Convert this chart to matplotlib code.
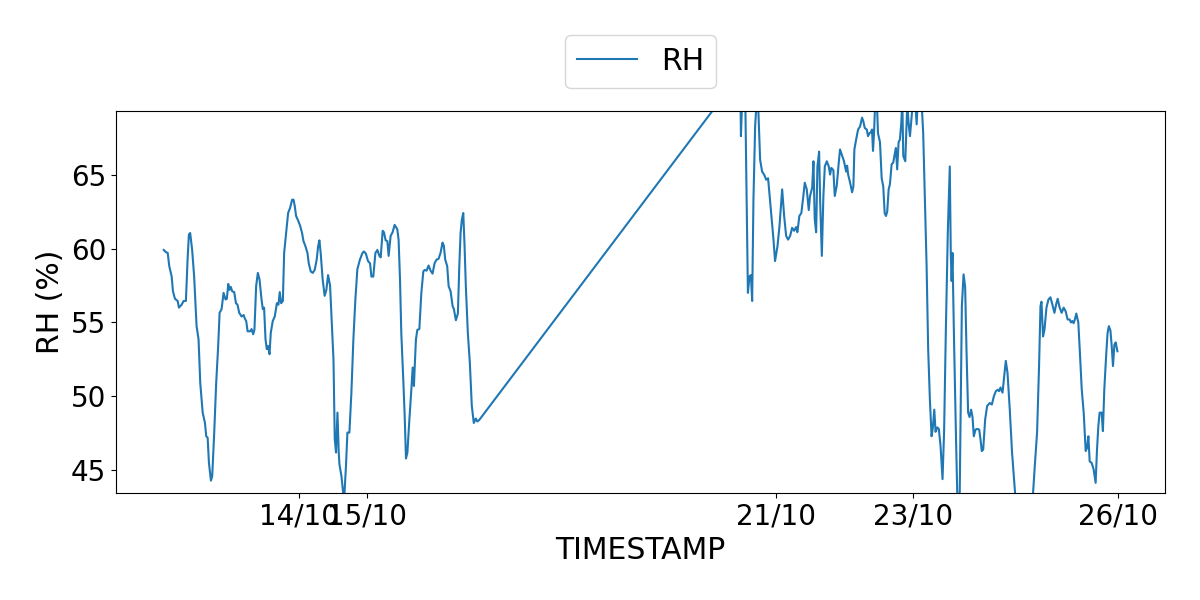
import matplotlib
matplotlib.use("Agg")
import matplotlib.pyplot as plt
import matplotlib.dates as mdates
import pandas as pd
import numpy as np

# hours since 2023-10-12 00:00
hours = [0.5, 1.3, 1.9, 2.45, 3.3, 3.75, 4.45, 5.4, 5.85, 6.8, 7.5, 8.3, 8.9, 9.35, 9.8, 10.5, 11.2,
         12.05, 12.75, 13.35, 14.2, 15.0, 15.45, 15.95, 16.4, 17.1, 17.55, 18.25, 18.95, 19.65, 20.15,
         20.85, 21.55, 22.25, 22.7, 23.2, 23.65, 24.1, 24.6, 25.3, 25.9, 26.45, 27.05, 27.9, 28.6,
         29.05, 29.5, 30.0, 30.9, 31.4, 31.95, 32.4, 33.0, 33.6, 34.2, 34.9, 35.35, 35.8, 36.3, 36.75,
         37.2, 37.7, 38.15, 38.85, 39.55, 40.3, 40.85, 41.3, 41.8, 42.4, 42.85, 43.55, 44.25, 44.95,
         45.65, 46.15, 46.6, 47.05, 47.75, 48.45, 49.15, 49.65, 50.35, 51.05, 51.5, 52.2, 52.9, 53.6,
         54.3, 54.8, 55.25, 55.7, 56.4, 57.1, 57.7, 58.3, 59.0, 59.7, 60.2, 60.65, 61.1, 61.6, 62.05,
         62.3, 63.0, 63.7, 64.0, 64.6, 65.1, 65.8, 66.5, 67.2, 67.9, 68.6, 69.5, 70.4, 70.9, 71.6,
         72.35, 73.05, 73.55, 74.2, 74.95, 75.65, 76.35, 76.8, 77.5, 77.95, 78.55, 79.15, 79.6, 80.3,
         81.0, 81.7, 82.65, 83.1, 83.6, 84.05, 84.8, 85.25, 85.7, 86.2, 86.9, 87.6, 88.05, 88.5, 88.75,
         89.2, 89.7, 90.4, 91.1, 91.8, 92.25, 92.95, 93.65, 94.35, 95.05, 95.75, 96.45, 97.15, 97.85,
         98.55, 99.0, 99.5, 100.2, 100.7, 101.4, 102.1, 102.55, 103.25, 103.95, 104.45, 104.9, 105.35,
         105.85, 106.3, 106.75, 107.45, 108.15, 108.85, 109.55, 110.25, 110.75, 111.45,
         203.25, 203.5, 203.95, 205.0, 205.95, 206.5, 207.0, 207.45, 207.9, 208.5, 209.1, 209.65,
         210.25, 210.95, 211.65, 212.4, 213.05, 213.5, 214.2, 214.95, 215.5, 216.35, 217.05, 218.0,
         218.7, 219.4, 220.1, 220.8, 221.5, 222.2, 222.9, 223.35, 224.05, 224.75, 225.45, 225.95,
         226.65, 227.35, 227.8, 228.55, 229.0, 229.45, 229.95, 230.4, 231.0, 231.35, 231.95, 232.5,
         233.0, 233.7, 234.4, 234.85, 235.3, 236.0, 236.5, 237.2, 237.9, 238.35, 239.05, 239.75,
         240.5, 240.85, 241.2, 241.9, 242.6, 243.05, 243.4, 244.0, 244.7, 245.4, 246.1, 246.55,
         247.05, 247.75, 248.2, 248.7, 249.15, 249.6, 249.95, 250.3, 250.75, 251.25, 251.7, 252.4,
         253.0, 253.55, 254.05, 254.5, 254.95, 255.45, 255.9, 256.5, 257.05, 257.55, 258.0, 258.45,
         258.95, 259.4, 259.9, 260.25, 260.6, 261.3, 262.0, 262.5, 262.95, 263.4, 264.1, 264.8,
         265.3, 265.75, 266.7, 267.15, 267.6, 268.2, 268.8, 269.35, 269.95, 270.55, 271.0, 271.5,
         271.95, 272.55, 273.1, 273.7, 274.4, 274.95, 275.55, 276.25, 276.95, 277.3, 277.6, 277.9,
         278.4, 279.1, 280.15, 281.2, 281.8, 282.35, 282.85, 283.4, 283.9, 284.45, 284.95, 285.4,
         286.0, 286.6, 287.3, 287.75, 288.2, 288.7, 289.4, 290.1, 291.0, 291.75, 292.45, 293.15,
         293.85, 294.3, 294.8, 295.5, 296.05, 296.65, 297.25, 298.05, 298.85, 299.45, 299.9, 301.58,
         303.33, 305.09, 306.25, 306.85, 307.65, 308.35, 308.85, 309.2, 309.75, 310.25, 310.95,
         311.65, 312.35, 313.05, 313.75, 314.45, 314.9, 315.6, 316.3, 317.0, 317.7, 318.4, 319.1,
         319.55, 320.05, 320.5, 320.95, 321.45, 322.15, 322.65, 323.35, 324.05, 324.75, 325.2, 325.7,
         326.15, 326.85, 327.55, 328.25, 328.7, 329.2, 329.65, 330.35, 330.8, 331.3, 332.0, 332.45,
         332.9, 333.45, 333.9, 334.35, 334.85, 335.3, 335.9]

rh = [59.9, 59.75, 59.7, 58.8, 58.1, 57.1, 56.6, 56.45, 56.0, 56.2, 56.45, 56.45, 59.3, 60.95, 61.05, 59.9, 58.1,
      54.75, 53.85, 50.9, 48.9, 48.2, 47.3, 47.2, 45.5, 44.3, 44.6, 47.5, 50.9, 53.4, 55.65,
      55.9, 57.0, 56.55, 56.6, 57.6, 57.2, 57.4, 57.1, 57.05, 56.3, 56.2, 55.65, 55.4, 55.5,
      55.25, 55.1, 54.4, 54.4, 54.55, 54.2, 54.5, 57.45, 58.35, 57.9, 56.55, 55.9, 56.0, 53.85, 53.2,
      53.4, 52.85, 54.3, 55.1, 55.4, 56.3, 56.2, 57.05, 56.3, 56.45, 59.7, 61.05, 62.4, 62.75,
      63.3, 63.3, 62.85, 62.2, 61.9, 61.55, 61.05, 60.5, 60.15, 59.7, 59.0, 58.45, 58.35, 58.55,
      59.25, 60.15, 60.55, 59.7, 57.9, 56.8, 57.2, 58.2, 57.5, 54.5, 52.5, 47.1, 46.2, 48.9, 46.2,
      45.4, 44.6, 43.3, 43.2, 45.3, 47.55, 47.55, 50.25, 53.85, 56.55, 58.6, 59.25, 59.7, 59.8, 59.65,
      59.15, 59.0, 58.1, 58.1, 59.7, 59.9, 59.5, 59.4, 61.2, 61.1, 60.55, 60.5, 59.5, 60.85,
      61.1, 61.6, 61.3, 60.6, 57.9, 54.3, 50.9, 48.65, 45.8, 46.2, 48.45, 50.5, 51.95, 50.7, 51.9,
      53.85, 54.5, 54.55, 57.0, 58.45, 58.55, 58.5, 58.85, 58.5, 58.3, 59.0, 59.25, 59.3, 59.7,
      60.4, 60.2, 59.25, 58.8, 57.45, 57.1, 56.1, 55.9, 55.15, 55.6, 58.8, 61.05, 61.95,
      62.4, 60.2, 57.45, 54.3, 52.3, 49.35, 48.2, 48.5, 48.3, 48.4,
      71.8, 67.6, 70.2, 70.5, 57.0, 58.1, 58.2, 56.45, 63.3, 68.3, 70.2, 69.2,
      66.0, 65.2, 65.0, 64.65, 64.75, 63.75, 62.2, 60.6, 59.15, 60.15, 61.5, 64.0,
      62.2, 60.85, 60.6, 60.85, 61.4, 61.2, 61.45, 61.1, 62.2, 62.4, 63.55, 64.45,
      64.0, 62.6, 63.55, 64.1, 65.9, 62.0, 61.1, 65.55, 66.55, 63.3, 59.5, 63.55,
      65.55, 65.9, 65.55, 65.0, 65.45, 65.3, 63.55, 64.25, 65.8, 66.7, 66.3, 65.9,
      65.2, 65.6, 65.0, 64.45, 63.8, 64.2, 66.7, 67.35, 68.05, 68.25, 68.85, 68.6,
      68.15, 68.05, 67.6, 67.8, 67.85, 68.05, 66.6, 67.8, 70.0, 70.3, 67.8, 67.2,
      64.75, 64.2, 62.4, 62.2, 62.5, 64.0, 64.35, 65.7, 65.8, 66.35, 66.8, 65.35,
      67.2, 67.35, 68.5, 70.0, 66.25, 65.9, 69.8, 68.4, 67.6, 68.6, 70.2, 70.0,
      68.4, 70.3, 70.5, 69.5, 67.8, 63.3, 58.8, 53.2, 49.8, 47.3, 47.9, 49.1,
      47.6, 47.9, 47.8, 46.65, 44.4, 47.6, 54.3, 61.05, 65.55, 59.7, 57.8, 59.7,
      54.3, 47.55, 38.5, 56.1, 58.25, 57.4, 52.95, 48.9, 48.6, 49.1, 48.6, 47.3,
      47.75, 47.8, 47.75, 47.1, 46.3, 46.4, 48.45, 49.35, 49.55, 49.45, 50.0, 50.35,
      50.45, 50.35, 50.6, 50.25, 51.25, 52.4, 51.6, 49.1, 46.2, 44.6, 43.5, 40.0,
      38.5, 40.5, 43.5, 45.3, 47.55, 52.05, 56.1, 56.4, 54.05, 54.5, 56.0,
      56.55, 56.7, 56.2, 55.65, 56.3, 56.6, 56.0, 55.65, 56.0, 55.75, 55.2, 55.2,
      55.0, 55.1, 54.95, 55.2, 55.6, 55.0, 53.2, 50.5, 48.9, 46.3, 46.5, 47.3,
      45.6, 45.5, 45.05, 44.15, 46.3, 48.0, 48.9, 48.9, 47.65, 50.5, 52.95, 54.3,
      54.75, 54.45, 53.4, 52.05, 53.5, 53.65, 53.05]

tick_dates = ["2023-10-14", "2023-10-15", "2023-10-21", "2023-10-23", "2023-10-26"]
y_limits = (43.45, 69.3)

base = pd.Timestamp("2023-10-12 00:00")
times = base + pd.to_timedelta(hours, unit="h")

fig = plt.figure(figsize=(12, 6), dpi=100)
ax = fig.add_axes([0.0967, 0.178, 0.8742, 0.637])
ax.plot(times, rh, color="#1f77b4", linewidth=1.5, label="RH")
ax.set_ylim(*y_limits)
ax.set_xticks(pd.to_datetime(tick_dates))
ax.xaxis.set_major_formatter(mdates.DateFormatter("%d/%m"))
ax.set_yticks([45, 50, 55, 60, 65])
ax.tick_params(labelsize=20)
ax.set_xlabel("TIMESTAMP", fontsize=21.5)
ax.set_ylabel("RH (%)", fontsize=21.5)
ax.legend(loc="lower center", bbox_to_anchor=(0.5, 1.022), fontsize=21.5)
fig.savefig("out.png", dpi=100)
